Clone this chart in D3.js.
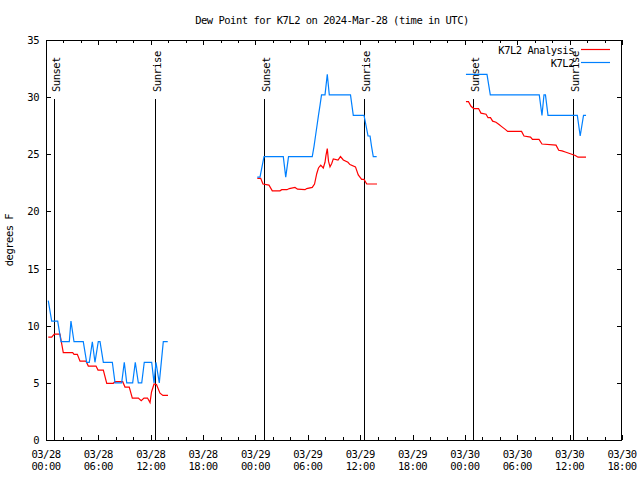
<!DOCTYPE html>
<html><head><meta charset="utf-8">
<script src="https://cdn.jsdelivr.net/npm/d3@7"></script>
<style>
body{margin:0;background:#fff;}
svg text{font-family:"DejaVu Sans Mono",monospace;font-size:10.5px;letter-spacing:-0.5px;fill:#000;}
</style></head><body>
<svg id="chart" width="640" height="480"></svg>
<script>
// ---------- DATA ----------
const chartTitle = "Dew Point for K7L2 on 2024-Mar-28 (time in UTC)";
const yAxisLabel = "degrees F";
const seriesNames = ["K7L2 Analysis", "K7L2"];
const seriesColors = ["#ff0000", "#0080ff"];
const startUTC = Date.UTC(2024, 2, 28, 0, 0);   // 03/28 00:00 UTC
const endHours = 66;                               // 03/30 18:00 UTC

const xMajorTickHours = [0, 6, 12, 18, 24, 30, 36, 42, 48, 54, 60, 66];
const xMinorTickHours = [2, 4, 8, 10, 14, 16, 20, 22, 26, 28, 32, 34, 38, 40, 44, 46, 50, 52, 56, 58, 62, 64];
const xTickDates = ["03/28","03/28","03/28","03/28","03/29","03/29","03/29","03/29","03/30","03/30","03/30","03/30"];
const xTickTimes = ["00:00","06:00","12:00","18:00","00:00","06:00","12:00","18:00","00:00","06:00","12:00","18:00"];
const yTicks = [0, 5, 10, 15, 20, 25, 30, 35];

// Sun events (hours since 03/28 00:00 UTC)
const sunEventHours = [0.95, 12.52, 25.0, 36.47, 48.96, 60.42];
const sunEventLabels = ["Sunset", "Sunrise", "Sunset", "Sunrise", "Sunset", "Sunrise"];

// K7L2 Analysis (red) – three segments
const ana1Hours  = [0.26,0.65,0.95,1.6,1.98,3.06,3.21,3.59,3.9,4.58,4.85,5.73,5.96,6.57,6.96,7.71,7.91,8.79,9.05,9.54,9.89,10.58,10.91,11.23,11.63,11.92,12.09,12.38,12.66,13.06,13.4,13.98];
const ana1Values = [9.0,9.0,9.27,9.27,7.64,7.64,7.5,7.5,6.9,6.9,6.47,6.47,6.12,6.12,4.96,4.96,5.1,5.1,4.63,4.63,3.67,3.67,3.44,3.67,3.67,3.27,4.2,4.9,4.85,4.1,3.9,3.9];
const ana2Hours  = [24.21,24.6,24.86,25.55,25.93,26.81,27.01,27.61,27.88,28.53,28.82,29.68,29.87,30.51,30.77,31.02,31.22,31.48,31.77,31.97,32.08,32.23,32.37,32.54,32.74,32.92,33.46,33.74,34.07,34.6,34.83,35.46,35.78,36.17,36.44,36.75,37.93];
const ana2Values = [22.9,22.9,22.4,22.3,21.8,21.8,21.9,21.9,22.0,22.1,21.95,21.9,22.0,22.1,22.4,23.3,23.8,24.05,23.8,24.3,24.9,25.5,24.4,23.9,24.2,24.6,24.5,24.8,24.5,24.3,24.1,23.9,23.2,22.8,22.8,22.4,22.4];
const ana3Hours  = [48.12,48.41,48.7,49.01,49.56,49.84,50.42,50.65,50.93,51.18,51.56,51.91,52.25,52.59,52.9,54.49,54.77,55.52,55.74,56.49,56.83,58.44,58.75,59.13,59.5,60.08,60.65,60.96,61.88];
const ana3Values = [29.6,29.6,29.2,29.0,29.0,28.6,28.5,28.2,28.2,27.9,27.8,27.6,27.4,27.2,27.0,27.0,26.6,26.5,26.3,26.3,25.9,25.8,25.35,25.3,25.2,25.05,24.9,24.75,24.75];

// K7L2 observations (blue) – three segments
const obs1Hours  = [0.26,0.65,1.34,1.72,2.67,2.86,3.21,4.27,4.66,4.96,5.31,5.61,5.99,6.19,6.57,7.6,7.91,8.67,8.97,9.25,9.93,10.23,10.58,10.97,11.26,12.11,12.38,12.6,12.98,13.44,13.95];
const obs1Values = [12.2,10.4,10.4,8.6,8.6,10.4,8.6,8.6,6.8,6.8,8.6,6.8,8.6,8.6,6.8,6.8,5.0,5.0,6.8,5.0,5.0,6.8,5.0,5.0,6.8,6.8,5.0,6.8,5.0,8.6,8.6];
const obs2Hours  = [24.21,24.52,24.75,24.98,27.19,27.47,27.79,30.51,30.71,30.88,31.05,31.22,31.4,31.57,31.97,32.23,32.46,34.89,35.21,36.44,36.67,36.9,37.13,37.3,37.5,37.89];
const obs2Values = [23.0,23.0,23.9,24.8,24.8,23.0,24.8,24.8,25.7,26.6,27.5,28.4,29.3,30.2,30.2,32.0,30.2,30.2,28.4,28.4,27.5,26.6,26.6,25.7,24.8,24.8];
const obs3Hours  = [48.12,50.53,50.91,56.52,56.83,57.06,57.23,57.52,60.88,61.21,61.59,61.88];
const obs3Values = [32.0,32.0,30.2,30.2,28.4,30.2,30.2,28.4,28.4,26.6,28.4,28.4];

// ---------- DRAW ----------
const H = 3600 * 1000;
const toDate = h => new Date(startUTC + h * H);
const svg = d3.select("#chart");
const L = 46, R = 622, T = 40, B = 440;

const x = d3.scaleUtc().domain([toDate(0), toDate(endHours)]).range([L, R]);
const y = d3.scaleLinear().domain([0, 35]).range([B, T]);

svg.append("rect").attr("width", 640).attr("height", 480).attr("fill", "#fff");

// title
svg.append("text").attr("x", 332).attr("y", 24).attr("text-anchor", "middle").text(chartTitle);

// y label
svg.append("text").attr("transform", "translate(13,240) rotate(-90)")
  .attr("text-anchor", "middle").text(yAxisLabel);

const ax = svg.append("g").attr("shape-rendering", "crispEdges");
// y ticks (left + mirrored right)
yTicks.forEach(v => {
  const yy = Math.round(y(v)) + 0.5;
  if (v > 0 && v < 35) {
    ax.append("line").attr("x1", L).attr("x2", L + 5).attr("y1", yy).attr("y2", yy).attr("stroke", "#000");
    ax.append("line").attr("x1", R - 5).attr("x2", R).attr("y1", yy).attr("y2", yy).attr("stroke", "#000");
  }
  svg.append("text").attr("x", 39).attr("y", y(v) + 4).attr("text-anchor", "end").text(v);
});
// x ticks
xMajorTickHours.forEach((h, i) => {
  const xx = Math.round(x(toDate(h))) + 0.5;
  ax.append("line").attr("x1", xx).attr("x2", xx).attr("y1", B - 5).attr("y2", B).attr("stroke", "#000");
  ax.append("line").attr("x1", xx).attr("x2", xx).attr("y1", T).attr("y2", T + 5).attr("stroke", "#000");
  const t = svg.append("text").attr("text-anchor", "middle");
  t.append("tspan").attr("x", x(toDate(h))).attr("y", 458).text(xTickDates[i]);
  t.append("tspan").attr("x", x(toDate(h))).attr("y", 470).text(xTickTimes[i]);
});
xMinorTickHours.forEach(h => {
  const xx = Math.round(x(toDate(h))) + 0.5;
  ax.append("line").attr("x1", xx).attr("x2", xx).attr("y1", B - 3).attr("y2", B).attr("stroke", "#000");
  ax.append("line").attr("x1", xx).attr("x2", xx).attr("y1", T).attr("y2", T + 3).attr("stroke", "#000");
});

// sun event lines + labels
sunEventHours.forEach((h, i) => {
  const xx = Math.round(x(toDate(h))) + 0.5;
  ax.append("line").attr("x1", xx).attr("x2", xx).attr("y1", 99).attr("y2", B).attr("stroke", "#000");
  svg.append("text").attr("transform", `translate(${xx + 5},92) rotate(-90)`)
    .attr("text-anchor", "start").text(sunEventLabels[i]);
});

// border
ax.append("rect").attr("x", L + 0.5).attr("y", T + 0.5).attr("width", R - L - 1).attr("height", B - T)
  .attr("fill", "none").attr("stroke", "#000");

// series
const line = d3.line().x(d => x(toDate(d[0]))).y(d => y(d[1]));
const zipS = (hs, vs) => hs.map((h, i) => [h, vs[i]]);
const anaSegs = [zipS(ana1Hours, ana1Values), zipS(ana2Hours, ana2Values), zipS(ana3Hours, ana3Values)];
const obsSegs = [zipS(obs1Hours, obs1Values), zipS(obs2Hours, obs2Values), zipS(obs3Hours, obs3Values)];
[anaSegs, obsSegs].forEach((segs, si) => {
  segs.forEach(seg => {
    svg.append("path").attr("d", line(seg)).attr("fill", "none")
      .attr("stroke", seriesColors[si]).attr("stroke-width", 1.2).attr("stroke-linejoin", "miter");
  });
});

// legend
seriesNames.forEach((name, i) => {
  const ly = 49.5 + i * 13;
  svg.append("text").attr("x", 574).attr("y", ly + 4).attr("text-anchor", "end").text(name);
  svg.append("line").attr("x1", 581).attr("x2", 610).attr("y1", ly).attr("y2", ly)
    .attr("stroke", seriesColors[i]).attr("stroke-width", 1.2);
});
</script>
</body></html>
